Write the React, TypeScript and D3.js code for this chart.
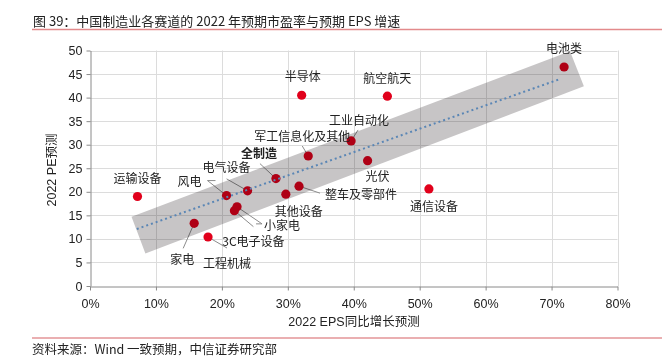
import React, { useEffect, useRef } from 'react';
import * as d3 from 'd3';

// sectors, EPS growth 2022E (fraction) and PE 2022E
const sectors = ['运输设备', '家电', '工程机械', '风电', '电气设备', '小家电', '3C电子设备', '其他设备', '全制造', '整车及零部件', '军工信息化及其他', '半导体', '工业自动化', '航空航天', '光伏', '通信设备', '电池类'];
const epsGrowth = [0.072, 0.158, 0.179, 0.207, 0.239, 0.223, 0.219, 0.297, 0.282, 0.317, 0.331, 0.321, 0.396, 0.451, 0.421, 0.514, 0.719];
const pe = [19.0, 13.3, 10.4, 19.2, 20.2, 16.8, 16.0, 19.5, 22.8, 21.2, 27.6, 40.5, 30.8, 40.3, 26.6, 20.6, 46.5];

// trend line ends and the shaded band around it
const trendX = [0.071, 0.714];
const trendY = [12.1, 44.0];
const bandX = [0.063, 0.728, 0.749, 0.084];
const bandY = [14.7, 49.85, 42.4, 6.9];

const xTicks = [0, 0.1, 0.2, 0.3, 0.4, 0.5, 0.6, 0.7, 0.8];
const yTicks = [0, 5, 10, 15, 20, 25, 30, 35, 40, 45, 50];

// label placement relative to the dot (px), plus leader bend points
const labelLayout = [
  { dx: 0, dy: -19 },
  { dx: -12, dy: 35, leader: [[-11, 25]] },
  { dx: 19, dy: 25, leader: [[19, 11]] },
  { dx: -37, dy: -15, leader: [[-19, -15], [-11, -15]] },
  { dx: -21, dy: -24, leader: [[-21, -12]] },
  { dx: 45, dy: 18, leader: [[25, 17], [19, 17]] },
  { dx: 19, dy: 30, leader: [[19, 16]] },
  { dx: 13, dy: 16 },
  { dx: -17, dy: -26, leader: [[-16, -15]], bold: true },
  { dx: 62, dy: 7, leader: [[21, 7]] },
  { dx: -6, dy: -21, leader: [[-6, -10]] },
  { dx: 1, dy: -20 },
  { dx: 8, dy: -21, leader: [[7, -11]] },
  { dx: 0, dy: -19 },
  { dx: 10, dy: 15 },
  { dx: 5, dy: 17 },
  { dx: 0, dy: -19 },
];

const W = 671;
const H = 362;
const cjk = '"Noto Sans CJK SC", "Liberation Sans", sans-serif';
const latin = '"Liberation Sans", Arial, "Noto Sans CJK SC", sans-serif';

export default function App() {
  const svgRef = useRef<SVGSVGElement>(null);

  useEffect(() => {
    const svg = d3.select(svgRef.current);
    svg.selectAll('*').remove();

    const x = d3.scaleLinear().domain([0, 0.8]).range([90, 617.5]);
    const y = d3.scaleLinear().domain([0, 50]).range([286, 50.5]);

    // title + rules
    svg.append('text')
      .attr('x', 33).attr('y', 26)
      .attr('font-family', cjk).attr('font-size', 13).attr('fill', '#222')
      .text('图 39：中国制造业各赛道的 2022 年预期市盈率与预期 EPS 增速');
    svg.append('line').attr('x1', 32).attr('x2', 662).attr('y1', 29.5).attr('y2', 29.5)
      .attr('stroke', '#e38a8c').attr('stroke-width', 1.5);
    svg.append('line').attr('x1', 32).attr('x2', 662).attr('y1', 338).attr('y2', 338)
      .attr('stroke', '#e39597').attr('stroke-width', 1.5);
    svg.append('text')
      .attr('x', 32).attr('y', 354)
      .attr('font-family', cjk).attr('font-size', 12.5).attr('fill', '#222')
      .text('资料来源：Wind 一致预期，中信证券研究部');

    // grid
    const grid = svg.append('g').attr('stroke', '#dcdcdc').attr('stroke-width', 1);
    grid.selectAll('line.v').data(xTicks.slice(1)).join('line')
      .attr('x1', d => Math.round(x(d)) + 0.5).attr('x2', d => Math.round(x(d)) + 0.5)
      .attr('y1', y(50)).attr('y2', y(0));
    grid.selectAll('line.h').data(yTicks.slice(1)).join('line')
      .attr('x1', x(0)).attr('x2', x(0.8))
      .attr('y1', d => Math.round(y(d)) + 0.5).attr('y2', d => Math.round(y(d)) + 0.5);

    // axes
    const xAxis = svg.append('g')
      .attr('transform', `translate(0, ${Math.round(y(0)) + 0.5})`)
      .call(d3.axisBottom(x).tickValues(xTicks).tickFormat(d3.format('.0%')).tickSizeInner(4).tickSizeOuter(0));
    const yAxis = svg.append('g')
      .attr('transform', `translate(${Math.round(x(0)) + 0.5}, 0)`)
      .call(d3.axisLeft(y).tickValues(yTicks).tickSizeInner(4).tickSizeOuter(0));
    [xAxis, yAxis].forEach(a => {
      a.select('.domain').attr('stroke', '#8a8a8a');
      a.selectAll('.tick line').attr('stroke', '#8a8a8a');
      a.selectAll('.tick text').attr('font-family', latin).attr('font-size', 12.5).attr('fill', '#222');
    });
    xAxis.selectAll('.tick text').attr('dy', '1.15em');
    yAxis.selectAll('.tick text').attr('x', -8);

    svg.append('text')
      .attr('x', 354).attr('y', 326).attr('text-anchor', 'middle')
      .attr('font-family', latin).attr('font-size', 12.5).attr('fill', '#222')
      .text('2022 EPS同比增长预测');
    svg.append('text')
      .attr('transform', `translate(56, 170) rotate(-90)`).attr('text-anchor', 'middle')
      .attr('font-family', latin).attr('font-size', 12.5).attr('fill', '#222')
      .text('2022 PE预测');

    // leader lines
    const leaders = svg.append('g').attr('fill', 'none').attr('stroke', '#8c8c8c').attr('stroke-width', 1);
    sectors.forEach((s, i) => {
      const l = labelLayout[i];
      if (!l.leader) return;
      const cx = x(epsGrowth[i]);
      const cy = y(pe[i]);
      const pts: [number, number][] = [[cx, cy], ...l.leader.map(p => [cx + p[0], cy + p[1]] as [number, number])];
      leaders.append('path').attr('d', d3.line()(pts));
    });

    // points
    svg.append('g').selectAll('circle').data(sectors).join('circle')
      .attr('cx', (d, i) => x(epsGrowth[i]))
      .attr('cy', (d, i) => y(pe[i]))
      .attr('r', 4.6)
      .attr('fill', '#e1001b');

    // shaded band (multiplied over the points)
    const bandPts = bandX.map((v, i) => [x(v), y(bandY[i])] as [number, number]);
    svg.append('path')
      .attr('d', d3.line()(bandPts) + 'Z')
      .attr('fill', '#c7c5c6')
      .style('mix-blend-mode', 'multiply');

    // trend line
    svg.append('path')
      .attr('d', d3.line<number>().x(d => x(d)).y((d, i) => y(trendY[i]))(trendX))
      .attr('fill', 'none')
      .attr('stroke', '#5a86b5')
      .attr('stroke-width', 2)
      .attr('stroke-dasharray', '2 3');

    // labels
    svg.append('g').selectAll('text').data(sectors).join('text')
      .attr('x', (d, i) => x(epsGrowth[i]) + labelLayout[i].dx)
      .attr('y', (d, i) => y(pe[i]) + labelLayout[i].dy)
      .attr('text-anchor', 'middle')
      .attr('dominant-baseline', 'central')
      .attr('font-family', cjk)
      .attr('font-size', 12)
      .attr('font-weight', (d, i) => (labelLayout[i].bold ? 'bold' : 'normal'))
      .attr('fill', '#222')
      .text(d => d);
  }, []);

  return (
    <svg ref={svgRef} width={W} height={H} style={{ position: 'absolute', left: 0, top: 0, background: '#fff' }} />
  );
}
